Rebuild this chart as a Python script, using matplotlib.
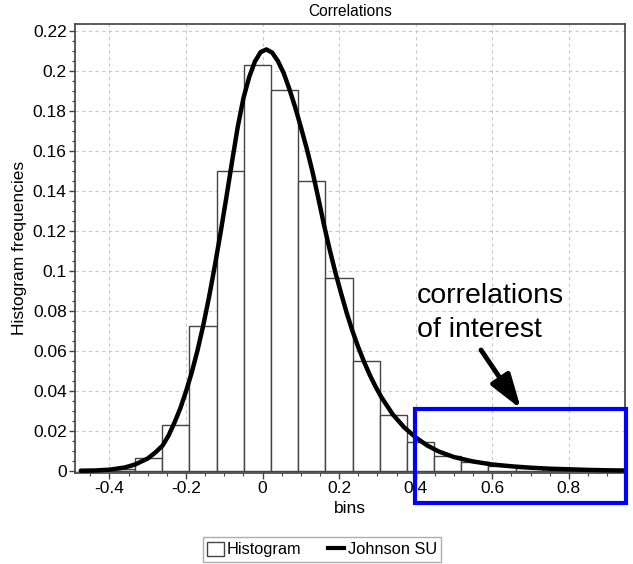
import numpy as np
import matplotlib
matplotlib.use('Agg')
import matplotlib.pyplot as plt
import matplotlib.ticker as mticker
from matplotlib.patches import Rectangle, FancyArrowPatch
from matplotlib.lines import Line2D

plt.rcParams['font.family'] = ['Liberation Sans', 'DejaVu Sans']

# histogram bins (left edges) and frequencies
bin_width = 0.071
bin_left = [-0.475, -0.404, -0.333, -0.262, -0.191, -0.120, -0.049, 0.022, 0.093, 0.164,
            0.235, 0.306, 0.377, 0.448, 0.519, 0.590, 0.661, 0.732, 0.803, 0.874]
freq = [0.0005, 0.0012, 0.0065, 0.0230, 0.0725, 0.1500, 0.2028, 0.1905, 0.1452, 0.0966,
        0.0554, 0.0284, 0.0146, 0.0076, 0.0047, 0.0028, 0.0018, 0.0010, 0.0006, 0.0004]

# fitted Johnson SU curve
fit_x = [-0.475, -0.44, -0.40, -0.36, -0.333, -0.30, -0.28, -0.261, -0.245, -0.23,
         -0.215, -0.20, -0.185, -0.17, -0.155, -0.14, -0.125, -0.11, -0.095, -0.08,
         -0.065, -0.05, -0.035, -0.02, -0.005, 0.01, 0.025, 0.04, 0.055, 0.07,
         0.085, 0.10, 0.115, 0.13, 0.145, 0.16, 0.175, 0.19, 0.205, 0.22,
         0.235, 0.25, 0.265, 0.28, 0.295, 0.31, 0.34, 0.37, 0.40, 0.43,
         0.46, 0.50, 0.55, 0.60, 0.65, 0.70, 0.75, 0.80, 0.85, 0.90, 0.945]
fit_y = [0.0004, 0.0005, 0.0009, 0.0020, 0.0035, 0.0065, 0.0095, 0.0130, 0.0182, 0.0245,
         0.0315, 0.0400, 0.0495, 0.0605, 0.0730, 0.0870, 0.1025, 0.1190, 0.1365, 0.1545,
         0.1720, 0.1865, 0.1970, 0.2048, 0.2095, 0.2108, 0.2092, 0.2050, 0.1990, 0.1910,
         0.1820, 0.1720, 0.1615, 0.1500, 0.1370, 0.1235, 0.1110, 0.0995, 0.0890, 0.0790,
         0.0700, 0.0620, 0.0548, 0.0482, 0.0424, 0.0372, 0.0285, 0.0220, 0.0170, 0.0130,
         0.0100, 0.0072, 0.0050, 0.0035, 0.0026, 0.0019, 0.0014, 0.0011, 0.0008, 0.0006, 0.0005]

W, H = 633, 564
fig = plt.figure(figsize=(W/100, H/100), dpi=100)
ax = fig.add_axes([75/W, 1-472.5/H, 550/W, 448.5/H])

bars = ax.bar(bin_left, freq, width=bin_width, align='edge', color='white',
              edgecolor='#444444', linewidth=1.0, zorder=2)
line, = ax.plot(fit_x, fit_y, color='black', lw=3.2, zorder=3,
                solid_capstyle='round', solid_joinstyle='round')

ax.set_xlim(-0.49, 0.9466)
ax.set_ylim(-0.0005, 0.2235)
ax.xaxis.set_major_locator(mticker.MultipleLocator(0.2))
ax.xaxis.set_minor_locator(mticker.MultipleLocator(0.05))
ax.yaxis.set_major_locator(mticker.MultipleLocator(0.02))
ax.yaxis.set_minor_locator(mticker.MultipleLocator(0.005))
fmt = mticker.FuncFormatter(lambda v, p: '%g' % (round(v, 4) + 0.0))
ax.xaxis.set_major_formatter(fmt)
ax.yaxis.set_major_formatter(fmt)
ax.tick_params(which='major', direction='out', length=4, width=1, color='#444444',
               labelsize=12.5, pad=2)
ax.tick_params(which='minor', direction='out', length=2.5, width=0.8, color='#444444')
ax.grid(True, which='major', color='#c8c8c8', linestyle=(0, (3, 3)), linewidth=0.8, zorder=0)
ax.set_axisbelow(True)
for s in ax.spines.values():
    s.set_color('#404040')
    s.set_linewidth(1.2)

ax.set_title('Correlations', fontsize=11.2, pad=6)
ax.set_xlabel('bins', fontsize=12.5, labelpad=4)
ax.set_ylabel('Histogram frequencies', fontsize=12.5, labelpad=4)

# highlight box and annotation (figure coordinates)
box = Rectangle((415.5/W, 1-502.5/H), (626.3-415.5)/W, (502.5-409)/H,
                transform=fig.transFigure, fill=False, edgecolor='#0000ff',
                linewidth=3.0, clip_on=False, zorder=10)
fig.add_artist(box)
fig.text(417/W, 1-303/H, 'correlations', fontsize=20.5, ha='left', va='baseline')
fig.text(417/W, 1-337/H, 'of interest', fontsize=20.5, ha='left', va='baseline')
fig.add_artist(FancyArrowPatch(
    (481/W, 1-350/H), (521/W, 1-409/H), transform=fig.transFigure,
    arrowstyle='-|>,head_length=0.8,head_width=0.26', mutation_scale=26,
    linewidth=3.5, color='black', shrinkA=0, shrinkB=0))

hist_handle = Rectangle((0, 0), 1, 1, facecolor='white', edgecolor='#444444', linewidth=1.0)
line_handle = Line2D([], [], color='black', lw=3.0)
leg = fig.legend([hist_handle, line_handle], ['Histogram', 'Johnson SU'],
                 loc='center', bbox_to_anchor=(322/W, 1-549.5/H), ncol=2,
                 fontsize=11.8, frameon=True, fancybox=False, handlelength=1.0,
                 handleheight=1.0, handletextpad=0.2, columnspacing=1.6,
                 borderpad=0.25, borderaxespad=0)
leg.get_frame().set_edgecolor('#999999')
leg.get_frame().set_linewidth(1.0)

fig.savefig('out.png', dpi=100)
